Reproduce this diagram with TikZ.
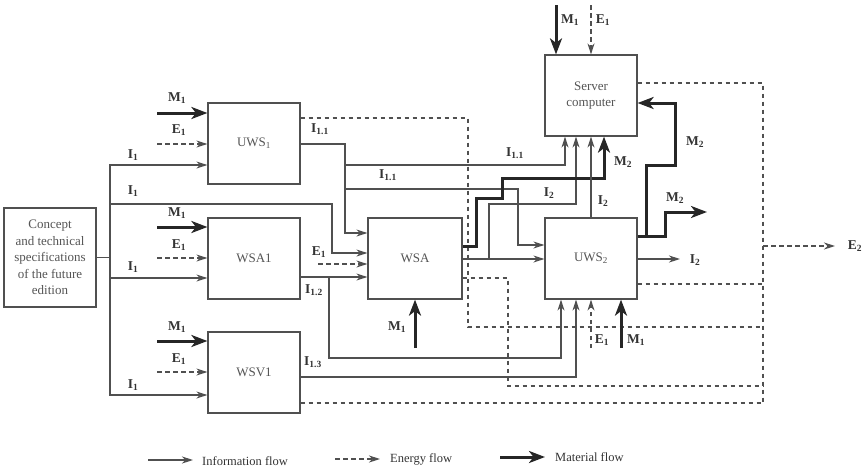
\documentclass[tikz,border=0pt]{standalone}
\usepackage{fontspec}
\setmainfont{Liberation Serif}
\usetikzlibrary{arrows.meta}
\definecolor{ln}{HTML}{505050}
\definecolor{tx}{HTML}{333333}
\definecolor{bx}{HTML}{555555}
\newcommand\flab[2]{\textbf{#1}\textsubscript{\textbf{#2}}}
\tikzset{
  box/.style={draw=ln, line width=1.2pt, fill=white, minimum width=92pt, minimum height=81pt,
    inner sep=0pt, font=\fontsize{13}{16.5}\selectfont, text=bx, align=center},
  info/.style={draw=ln, line width=1.2pt, -{Stealth[length=11pt,width=7pt,inset=3.5pt]}},
  energy/.style={draw=ln, line width=1.2pt, dash pattern=on 4.5pt off 3.5pt, -{Stealth[length=11pt,width=7pt,inset=3.5pt]}},
  energyl/.style={draw=ln, line width=1.2pt, dash pattern=on 4.5pt off 3.5pt},
  mat/.style={draw=black!85, line width=3pt, -{Stealth[length=16pt,width=12pt,inset=4.5pt]}},
  lbl/.style={font=\fontsize{13.5}{15}\selectfont, text=tx, inner sep=0pt},
  legtext/.style={font=\fontsize{12.5}{15}\selectfont, text=tx, inner sep=0pt, anchor=west},
}
\begin{document}
\begin{tikzpicture}[x=1pt,y=-1pt]
\useasboundingbox (0,0) rectangle (864,469);

% ---- boxes
\node[box, minimum height=99pt] (concept) at (50,257.5) {Concept\\and technical\\specifications\\of the future\\edition};
\node[box] (uws1) at (254,143.5) {UWS\textsubscript{1}};
\node[box] (wsa1) at (254,258.5) {WSA1};
\node[box] (wsv1) at (254,372.5) {WSV1};
\node[box, minimum width=94pt] (wsa) at (415,258.5) {WSA};
\node[box] (uws2) at (591,258.5) {UWS\textsubscript{2}};
\node[box] (server) at (591,95.5) {Server\\computer};

% ---- left bus (information I1)
\coordinate (bt) at (110,165);
\coordinate (bb) at (110,395);
\coordinate (b204) at (110,204);
\coordinate (b278) at (110,278);
\draw[info] (concept.east) -| (bt) -- (uws1.west |- bt);
\draw[info] (concept.east) -| (bb) -- (wsv1.west |- bb);
\draw[info] (b278) -- (wsa1.west |- b278);
\coordinate (k1) at (332,204);
\draw[info] (b204) -- (k1) |- (wsa.west |- 0,253);
\node[lbl] (li1) at (133,155) {\flab{I}{1}};
\node[lbl] (li2) at (133,191) {\flab{I}{1}};
\node[lbl] (li3) at (133,267) {\flab{I}{1}};
\node[lbl] (li4) at (133,385) {\flab{I}{1}};

% ---- material / energy inputs of the left boxes
\coordinate (ma) at (157,113); \draw[mat] (ma) -- (uws1.west |- ma);
\coordinate (ea) at (157,144); \draw[energy] (ea) -- (uws1.west |- ea);
\coordinate (mb) at (157,227); \draw[mat] (mb) -- (wsa1.west |- mb);
\coordinate (eb) at (157,258); \draw[energy] (eb) -- (wsa1.west |- eb);
\coordinate (mc) at (157,341); \draw[mat] (mc) -- (wsv1.west |- mc);
\coordinate (ec) at (157,372); \draw[energy] (ec) -- (wsv1.west |- ec);
\node[lbl] (lma) at (177,98) {\flab{M}{1}};
\node[lbl] (lea) at (179,130) {\flab{E}{1}};
\node[lbl] (lmb) at (177,213) {\flab{M}{1}};
\node[lbl] (leb) at (179,245) {\flab{E}{1}};
\node[lbl] (lmc) at (177,327) {\flab{M}{1}};
\node[lbl] (lec) at (179,359) {\flab{E}{1}};

% ---- UWS1 outputs
\coordinate (j1) at (345,144);
\draw[info] (uws1.east |- j1) -- (j1) |- (wsa.west |- 0,233);
\coordinate (j2) at (345,165); \coordinate (j2b) at (565,165);
\draw[info] (j2) -- (j2b) -- (server.south -| j2b);
\coordinate (j3) at (345,189); \coordinate (j3b) at (518,189);
\draw[info] (j3) -- (j3b) |- (uws2.west |- 0,245);
\coordinate (d1) at (468,118); \coordinate (d1b) at (468,327); \coordinate (d1e) at (763,327);
\draw[energyl] (uws1.east |- d1) -- (d1) -- (d1b) -- (d1e);
\node[lbl] (l11a) at (320,129) {\flab{I}{1.1}};
\node[lbl] (l11b) at (515,153) {\flab{I}{1.1}};
\node[lbl] (l11c) at (388,175) {\flab{I}{1.1}};

% ---- WSA1 outputs
\coordinate (j4) at (329,277); \coordinate (j4b) at (561,358);
\draw[info] (wsa1.east |- j4) -- (wsa.west |- j4);
\draw[info] (j4) |- (j4b) -- (uws2.south -| j4b);
\coordinate (ew) at (318,264); \draw[energy] (ew) -- (wsa.west |- ew);
\node[lbl] (l12) at (314,290) {\flab{I}{1.2}};
\node[lbl] (lew) at (319,252) {\flab{E}{1}};

% ---- WSV1 outputs
\coordinate (j5) at (576,377);
\draw[info] (wsv1.east |- j5) -- (j5) -- (uws2.south -| j5);
\coordinate (d5) at (763,403);
\draw[energyl] (wsv1.east |- d5) -- (d5);
\node[lbl] (l13) at (313,362) {\flab{I}{1.3}};

% ---- WSA
\coordinate (mw) at (415,348); \draw[mat] (mw) -- (wsa.south -| mw);
\node[lbl] (lmw) at (397,327) {\flab{M}{1}};
\coordinate (j6) at (489,259); \coordinate (j6b) at (576,204);
\draw[info] (wsa.east |- j6) -- (uws2.west |- j6);
\draw[info] (j6) |- (j6b) -- (server.south -| j6b);
\node[lbl] (li2a) at (549,193) {\flab{I}{2}};
\draw[mat] (wsa.east |- 0,246) -- (476,246) -- (476,198) -- (502,198) -- (502,178) -- (604,178) -- (server.south -| 604,0);
\node[lbl] (lm2a) at (623,162) {\flab{M}{2}};
\coordinate (d6) at (508,278); \coordinate (d6e) at (763,386);
\draw[energyl] (wsa.east |- d6) -- (d6) |- (d6e);

% ---- UWS2
\draw[info] (uws2.north) -- (server.south);
\node[lbl] (li2b) at (603,201) {\flab{I}{2}};
\coordinate (io) at (680,259); \draw[info] (uws2.east |- io) -- (io);
\node[lbl] (li2c) at (695,260) {\flab{I}{2}};
\coordinate (m2o) at (707,212);
\draw[mat] (uws2.east |- 0,236) -- (665,236) -- (665,212) -- (m2o);
\draw[mat] (646,237.5) -- (646,165) -- (675,165) -- (675,103) -- (server.east |- 0,103);
\node[lbl] (lm2b) at (695,142) {\flab{M}{2}};
\node[lbl] (lm2c) at (675,198) {\flab{M}{2}};
\coordinate (d7) at (763,284);
\draw[energyl] (uws2.east |- d7) -- (d7);
\coordinate (eu) at (591,348); \draw[energy] (eu) -- (uws2.south);
\coordinate (mu) at (621,348); \draw[mat] (mu) -- (uws2.south -| mu);
\node[lbl] (leu) at (602,340) {\flab{E}{1}};
\node[lbl] (lmu) at (636,340) {\flab{M}{1}};

% ---- Server
\coordinate (ms) at (556,5); \draw[mat] (ms) -- (server.north -| ms);
\coordinate (es) at (591,5); \draw[energy] (es) -- (server.north);
\node[lbl] (lms) at (570,20) {\flab{M}{1}};
\node[lbl] (les) at (603,20) {\flab{E}{1}};
\coordinate (d8) at (763,83);
\draw[energyl] (server.east |- d8) -- (d8) -- (d5);
\coordinate (e2s) at (763,246); \coordinate (e2e) at (835,246);
\draw[energy] (e2s) -- (e2e);
\node[lbl] (le2) at (855,246) {\flab{E}{2}};

% ---- legend
\coordinate (g1a) at (148,460); \coordinate (g1b) at (193,460);
\draw[info] (g1a) -- (g1b);
\node[legtext] (gt1) at (202,461) {Information flow};
\coordinate (g2a) at (335,459); \coordinate (g2b) at (380,459);
\draw[energy] (g2a) -- (g2b);
\node[legtext] (gt2) at (390,459) {Energy flow};
\coordinate (g3a) at (500,457); \coordinate (g3b) at (545,457);
\draw[mat] (g3a) -- (g3b);
\node[legtext] (gt3) at (555,457) {Material flow};
\end{tikzpicture}
\end{document}
